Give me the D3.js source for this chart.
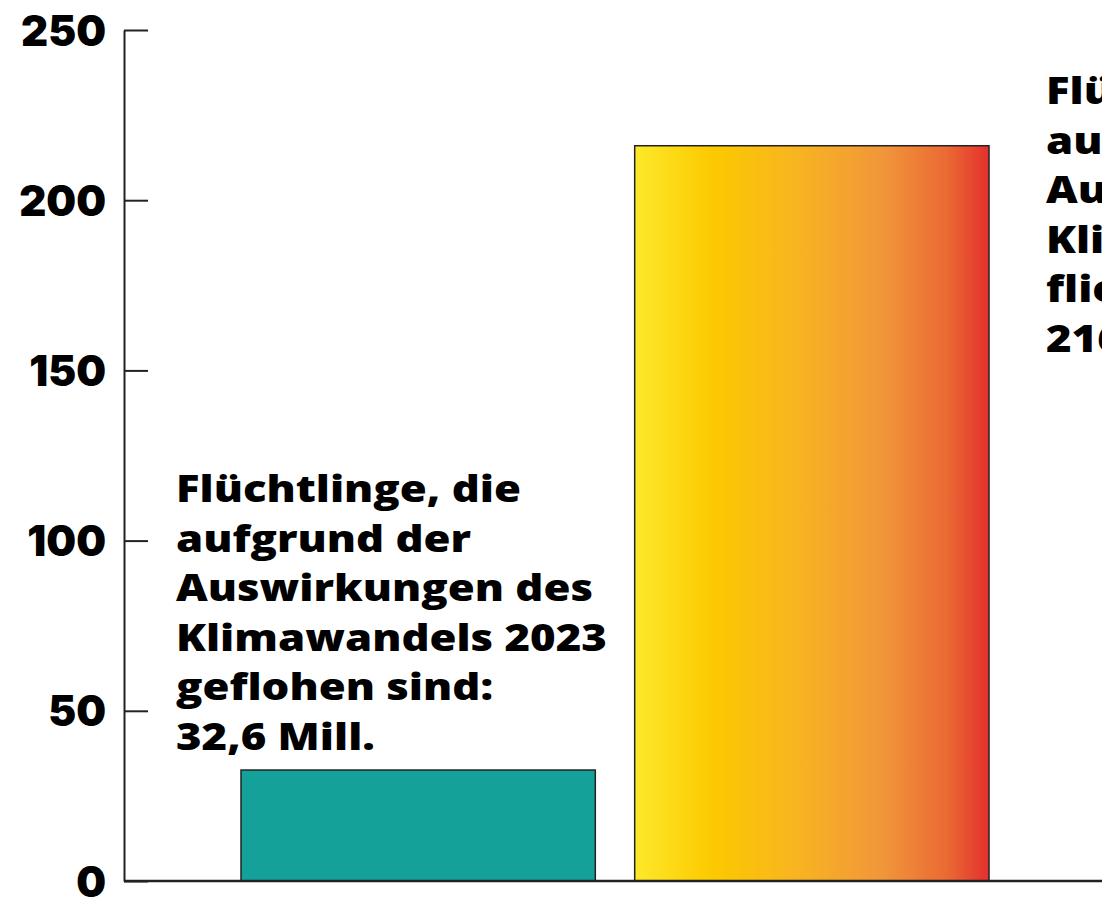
<!DOCTYPE html>
<html><head><meta charset="utf-8">
<script src="https://cdn.jsdelivr.net/npm/d3@7"></script>
<style>
html,body{margin:0;padding:0;background:#fff;overflow:hidden}
text{font-family:"Open Sans",Inter,sans-serif}
</style></head>
<body><svg id="c" width="1102" height="901"></svg>
<script>
const categories = ["2023", "2050"];
const values = [32.6, 216];
const yTicks = [0, 50, 100, 150, 200, 250];
const labelsLeft = ["Flüchtlinge, die", "aufgrund der", "Auswirkungen des", "Klimawandels 2023", "geflohen sind:", "32,6 Mill."];
const labelsRight = ["Flüchtlinge, die", "aufgrund der", "Auswirkungen des", "Klimawandels 2050", "fliehen werden:", "216 Mill."];

const svg = d3.select("#c");
const y = d3.scaleLinear().domain([0, 250]).range([881, 30]);
const x = d3.scaleBand().domain(categories).range([241, 989]).paddingInner(0.1);

const defs = svg.append("defs");
const g = defs.append("linearGradient").attr("id", "grad").attr("x1", "0").attr("x2", "1").attr("y1", "0").attr("y2", "0");
[[0, "#fde92a"], [0.22, "#fcc900"], [0.45, "#f8b520"], [0.7, "#f1963a"], [0.88, "#ea6a33"], [1, "#e3302d"]].forEach(([o, c]) =>
  g.append("stop").attr("offset", o).attr("stop-color", c));

svg.selectAll("rect.bar").data(values).join("rect").attr("class", "bar")
  .attr("x", (d, i) => x(categories[i]))
  .attr("width", x.bandwidth())
  .attr("y", d => y(d))
  .attr("height", d => y(0) - y(d))
  .attr("fill", (d, i) => i === 0 ? "#13a19a" : "url(#grad)")
  .attr("stroke", "#222").attr("stroke-width", 1.5);

const ax = svg.append("g").attr("transform", "translate(124,0)")
  .call(d3.axisLeft(y).tickValues(yTicks).tickSizeInner(-24).tickSizeOuter(0).tickPadding(18));
ax.select(".domain").attr("stroke", "#222").attr("stroke-width", 2);
ax.selectAll(".tick line").attr("stroke", "#222").attr("stroke-width", 2);
ax.selectAll(".tick text").attr("fill", "#000").style("font-size", "42px").style("font-weight", 900)
  .style("font-family", "Inter, sans-serif").attr("dy", "0.36em");

const xb = d3.scaleLinear().domain([0, 1]).range([124, 1102]);
svg.append("line").attr("x1", xb(0)).attr("x2", xb(1)).attr("y1", y(0)).attr("y2", y(0))
  .attr("stroke", "#222").attr("stroke-width", 2.5);

function block(lines, x0, y0) {
  const grp = svg.append("g").attr("transform", `translate(${x0},${y0})`);
  const t = grp.append("text").attr("x", 0).attr("y", 0).attr("fill", "#000")
    .style("font-size", "37px").style("font-weight", 800);
  t.selectAll("tspan").data(lines).join("tspan").attr("x", 0).attr("dy", (d, i) => i === 0 ? 0 : 49.6).text(d => d);
  return grp;
}
const gl = block(labelsLeft, 176, 502);
const gr = block(labelsRight, 1046, 104);
// horizontal scaling so the longest line matches the reference width
const w = gl.selectAll("tspan").nodes()[3].getComputedTextLength();
const k = 431 / w;
gl.attr("transform", `translate(176,502) scale(${k},1)`);
gr.attr("transform", `translate(1046,104) scale(${k},1)`);
</script></body></html>
